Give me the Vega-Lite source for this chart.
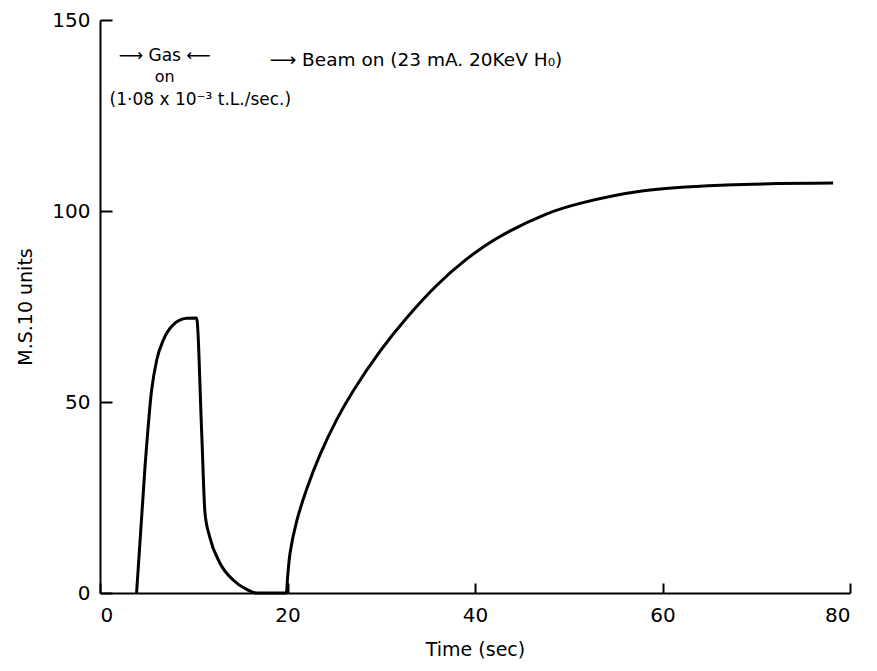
{
  "$schema": "https://vega.github.io/schema/vega-lite/v6.json",
  "width": 750,
  "height": 573,
  "autosize": {"type": "none"},
  "padding": {"left": 100, "top": 20, "right": 27, "bottom": 78},
  "background": "white",
  "config": {
    "view": {"stroke": null},
    "font": "DejaVu Sans",
    "axis": {
      "grid": false,
      "domainColor": "black",
      "domainWidth": 2,
      "tickColor": "black",
      "tickWidth": 2,
      "labelColor": "black",
      "titleColor": "black",
      "labelFont": "DejaVu Sans",
      "titleFont": "DejaVu Sans",
      "labelFontSize": 20,
      "titleFontSize": 19,
      "titleFontWeight": "normal"
    }
  },
  "datasets": {
    "curve": [
      {"s": "gas", "t": 3.9, "v": 0},
      {"s": "gas", "t": 4.8, "v": 33},
      {"s": "gas", "t": 5.5, "v": 53},
      {"s": "gas", "t": 6.05, "v": 61},
      {"s": "gas", "t": 6.75, "v": 66.2},
      {"s": "gas", "t": 7.8, "v": 70.2},
      {"s": "gas", "t": 9.25, "v": 71.9},
      {"s": "gas", "t": 10.3, "v": 72},
      {"s": "gas", "t": 10.85, "v": 41.8},
      {"s": "gas", "t": 11.2, "v": 20.9},
      {"s": "gas", "t": 11.7, "v": 14.7},
      {"s": "gas", "t": 12.8, "v": 7.8},
      {"s": "gas", "t": 14.2, "v": 3.4},
      {"s": "gas", "t": 15.6, "v": 1},
      {"s": "gas", "t": 16.7, "v": 0},
      {"s": "gas", "t": 19.9, "v": 0},
      {"s": "beam", "t": 19.9, "v": 0},
      {"s": "beam", "t": 20.27, "v": 10.4},
      {"s": "beam", "t": 20.98, "v": 18.8},
      {"s": "beam", "t": 22.05, "v": 27.2},
      {"s": "beam", "t": 23.47, "v": 36.2},
      {"s": "beam", "t": 25.25, "v": 45.4},
      {"s": "beam", "t": 27.0, "v": 52.9},
      {"s": "beam", "t": 29.9, "v": 63.4},
      {"s": "beam", "t": 32.7, "v": 72.0},
      {"s": "beam", "t": 35.9, "v": 80.5},
      {"s": "beam", "t": 39.0, "v": 87.2},
      {"s": "beam", "t": 42.3, "v": 92.8},
      {"s": "beam", "t": 47.6, "v": 99.2},
      {"s": "beam", "t": 51.2, "v": 102.0},
      {"s": "beam", "t": 58.0, "v": 105.3},
      {"s": "beam", "t": 66.8, "v": 106.8},
      {"s": "beam", "t": 78.2, "v": 107.3}
    ],
    "notes": [
      {"t": 6.9, "v": 140.5, "label": "⟶ Gas ⟵", "align": "center", "size": 17},
      {"t": 6.9, "v": 135.2, "label": "on", "align": "center", "size": 16},
      {"t": 10.7, "v": 129, "label": "(1·08 x 10⁻³ t.L./sec.)", "align": "center", "size": 17},
      {"t": 18.1, "v": 139.5, "label": "⟶ Beam on (23 mA. 20KeV H₀)", "align": "left", "size": 18.5}
    ]
  },
  "layer": [
    {
      "data": {"name": "curve"},
      "transform": [{"filter": "datum.s == 'gas'"}],
      "mark": {"type": "line", "color": "black", "strokeWidth": 3, "interpolate": "monotone"},
      "encoding": {
        "x": {
          "field": "t", "type": "quantitative",
          "scale": {"domain": [0, 80], "nice": false},
          "axis": {"values": [0, 20, 40, 60, 80], "tickSize": -10, "labelPadding": 22, "title": "Time (sec)", "titlePadding": 15}
        },
        "y": {
          "field": "v", "type": "quantitative",
          "scale": {"domain": [0, 150], "nice": false},
          "axis": {"values": [0, 50, 100, 150], "tickSize": -12, "labelPadding": 22, "title": "M.S.10 units", "titlePadding": 16}
        }
      }
    },
    {
      "data": {"name": "curve"},
      "transform": [{"filter": "datum.s == 'beam'"}],
      "mark": {"type": "line", "color": "black", "strokeWidth": 3, "interpolate": "catmull-rom"},
      "encoding": {
        "x": {"field": "t", "type": "quantitative"},
        "y": {"field": "v", "type": "quantitative"}
      }
    },
    {
      "data": {"name": "notes"},
      "transform": [{"filter": "datum.align == 'center'"}],
      "mark": {"type": "text", "font": "DejaVu Sans", "color": "black", "align": "center", "baseline": "middle"},
      "encoding": {
        "x": {"field": "t", "type": "quantitative"},
        "y": {"field": "v", "type": "quantitative"},
        "text": {"field": "label"},
        "size": {"field": "size", "type": "quantitative", "scale": null}
      }
    },
    {
      "data": {"name": "notes"},
      "transform": [{"filter": "datum.align == 'left'"}],
      "mark": {"type": "text", "font": "DejaVu Sans", "color": "black", "align": "left", "baseline": "middle"},
      "encoding": {
        "x": {"field": "t", "type": "quantitative"},
        "y": {"field": "v", "type": "quantitative"},
        "text": {"field": "label"},
        "size": {"field": "size", "type": "quantitative", "scale": null}
      }
    }
  ]
}
